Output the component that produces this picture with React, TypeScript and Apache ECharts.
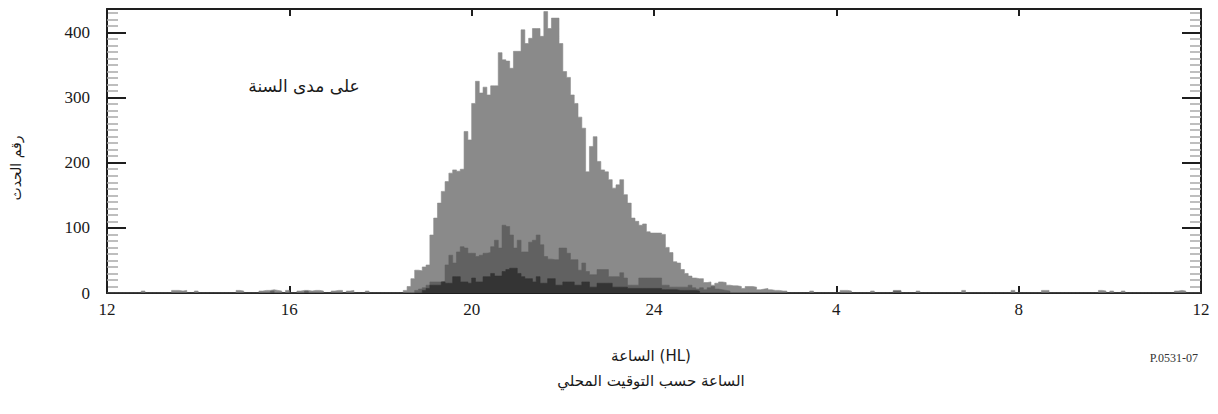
import { useEffect, useRef } from "react";
import * as echarts from "echarts";

// ---- data (5-minute bins starting at 12:00 local hour) ----
const START_HOUR = 12;
const BIN_MINUTES = 5;
const N_BINS = 288;

const xTickHours = [12, 16, 20, 24, 28, 32, 36];
const yTickValues = [0, 100, 200, 300, 400];

// whole year (light)
const lightStartBin = 78;
const lightCounts = [
  4, 10, 22, 35, 34, 40, 43, 89, 115, 138, 156, 171, 184, 189, 187, 190, 248, 235, 291, 325,
  307, 316, 304, 318, 318, 369, 358, 356, 345, 371, 371, 404, 383, 391, 406, 406, 394, 432, 406, 422,
  422, 383, 340, 331, 304, 291, 270, 253, 186, 225, 240, 202, 189, 186, 174, 161, 166, 174, 151, 138,
  115, 110, 104, 106, 94, 92, 92, 92, 90, 70, 62, 48, 46, 36, 30, 26, 23, 22, 22, 16,
  17, 12, 15, 17, 16, 12, 11, 11, 10, 7, 10, 10, 9, 5, 6, 7, 5, 4,
];
const lightBlips = [
  [9, 3], [17, 4], [18, 4], [19, 3], [20, 4], [23, 3], [34, 4], [35, 3], [40, 3], [41, 4],
  [42, 4], [43, 5], [44, 4], [45, 3], [47, 4], [50, 3], [51, 4], [52, 4], [53, 3], [54, 4],
  [55, 4], [56, 3], [59, 3], [60, 4], [61, 4], [63, 3], [64, 4], [68, 3], [176, 4], [177, 3],
  [178, 3], [185, 3], [193, 4], [194, 4], [195, 3], [201, 3], [207, 4], [208, 4], [213, 3],
  [225, 4], [238, 4], [246, 4], [247, 4], [261, 4], [262, 3], [264, 3], [267, 3], [281, 3],
  [282, 4], [283, 3],
];

// medium series
const mediumStartBin = 81;
const mediumCounts = [
  4, 6, 8, 12, 17, 17, 17, 18, 43, 58, 46, 63, 71, 69, 61, 61, 56, 58, 61, 62,
  71, 81, 69, 104, 102, 89, 69, 81, 63, 63, 78, 81, 89, 74, 56, 52, 51, 51, 69, 69,
  61, 51, 51, 35, 46, 33, 28, 28, 36, 36, 36, 25, 25, 25, 31, 23, 12, 12, 12, 23,
  23, 23, 23, 23, 23, 12, 12, 9, 9, 9, 9, 9, 12, 8, 6, 8, 5, 8, 10, 6, 5, 4, 3,
];
const mediumBlips = [[43, 3], [52, 3], [207, 3], [208, 3]];

// dark series
const darkStartBin = 83;
const darkCounts = [
  4, 7, 12, 12, 12, 17, 15, 15, 25, 25, 17, 17, 15, 23, 17, 17, 25, 25, 30, 26,
  26, 33, 36, 38, 38, 30, 25, 22, 22, 17, 25, 15, 15, 22, 22, 12, 12, 17, 17, 17,
  12, 12, 17, 17, 9, 9, 15, 15, 15, 15, 9, 9, 9, 9, 7, 7, 7, 7, 7, 7,
  7, 7, 7, 5, 5, 5, 5, 4, 4, 4, 4, 4, 3,
];

function buildSeries(start: number, counts: number[], blips: number[][]) {
  const arr: number[] = new Array(N_BINS).fill(0);
  counts.forEach((c, i) => {
    arr[start + i] = c;
  });
  blips.forEach(([b, c]) => {
    arr[b] = Math.max(arr[b], c);
  });
  const pts = arr.map((v, i) => [START_HOUR + (i * BIN_MINUTES) / 60, v]);
  pts.push([START_HOUR + 24, arr[N_BINS - 1]]);
  return pts;
}

const SERIF = "Liberation Serif";
const ARABIC = "DejaVu Sans";

export default function App() {
  const ref = useRef<HTMLDivElement>(null);
  useEffect(() => {
    document.body.style.margin = "0";
    const chart = echarts.init(ref.current!, undefined, { renderer: "svg" });
    const axisLine = { show: true, onZero: false, lineStyle: { color: "#1e1e1e", width: 2 } };
    const labelStyle = { color: "#1a1a1a", fontFamily: SERIF, fontSize: 17 };
    const xBase = {
      type: "value" as const,
      min: xTickHours[0],
      max: xTickHours[xTickHours.length - 1],
      interval: 4,
      axisLine,
      axisTick: { show: true, inside: true, length: 7, lineStyle: { color: "#1e1e1e", width: 2 } },
      splitLine: { show: false },
    };
    const yBase = {
      type: "value" as const,
      min: yTickValues[0],
      max: 436,
      interval: 100,
      axisLine,
      axisTick: { show: true, inside: true, length: 19, lineStyle: { color: "#1e1e1e", width: 2 } },
      minorTick: { show: true, splitNumber: 10, length: 11, lineStyle: { color: "#a8a8a8", width: 1.5 } },
      splitLine: { show: false },
      minorSplitLine: { show: false },
    };
    const mk = (name: string, data: number[][], color: string) => ({
      name,
      type: "line" as const,
      step: "end" as const,
      data,
      showSymbol: false,
      symbol: "none",
      lineStyle: { width: 0.6, color },
      areaStyle: { color, opacity: 1 },
      itemStyle: { color },
      silent: true,
    });
    chart.setOption({
      animation: false,
      backgroundColor: "#ffffff",
      textStyle: { fontFamily: SERIF },
      grid: { left: 107, right: 17, top: 9, bottom: 121, containLabel: false },
      xAxis: [
        {
          ...xBase,
          position: "bottom",
          axisLabel: {
            show: true,
            ...labelStyle,
            margin: 8,
            formatter: (v: number) => String(v <= 24 ? v : v - 24),
          },
        },
        { ...xBase, position: "top", axisLabel: { show: false } },
      ],
      yAxis: [
        {
          ...yBase,
          position: "left",
          axisLabel: {
            show: true,
            ...labelStyle,
            margin: 17,
            formatter: (v: number) => (yTickValues.includes(v) ? String(v) : ""),
          },
        },
        { ...yBase, position: "right", axisLabel: { show: false } },
      ],
      series: [
        mk("light", buildSeries(lightStartBin, lightCounts, lightBlips), "#8a8a8a"),
        mk("medium", buildSeries(mediumStartBin, mediumCounts, mediumBlips), "#616161"),
        mk("dark", buildSeries(darkStartBin, darkCounts, []), "#343434"),
      ],
      graphic: [
        {
          type: "text",
          x: 304,
          y: 86,
          style: {
            text: "على مدى السنة",
            fontFamily: ARABIC,
            fontSize: 17,
            fill: "#1a1a1a",
            textAlign: "center",
            textVerticalAlign: "middle",
          },
        },
        {
          type: "text",
          x: 16,
          y: 168,
          rotation: Math.PI / 2,
          style: {
            text: "رقم الحدث",
            fontFamily: ARABIC,
            fontSize: 14,
            fill: "#1a1a1a",
            textAlign: "center",
            textVerticalAlign: "middle",
          },
        },
        {
          type: "text",
          x: 651,
          y: 356,
          style: {
            text: "الساعة (HL)",
            fontFamily: ARABIC,
            fontSize: 15,
            fill: "#1a1a1a",
            textAlign: "center",
            textVerticalAlign: "middle",
          },
        },
        {
          type: "text",
          x: 651,
          y: 381,
          style: {
            text: "الساعة حسب التوقيت المحلي",
            fontFamily: ARABIC,
            fontSize: 15,
            fill: "#1a1a1a",
            textAlign: "center",
            textVerticalAlign: "middle",
          },
        },
        {
          type: "text",
          x: 1198,
          y: 358,
          style: {
            text: "P.0531-07",
            fontFamily: SERIF,
            fontSize: 12,
            fill: "#333",
            textAlign: "right",
            textVerticalAlign: "middle",
          },
        },
      ],
    });
    return () => chart.dispose();
  }, []);
  return <div ref={ref} style={{ width: 1218, height: 414 }} />;
}
